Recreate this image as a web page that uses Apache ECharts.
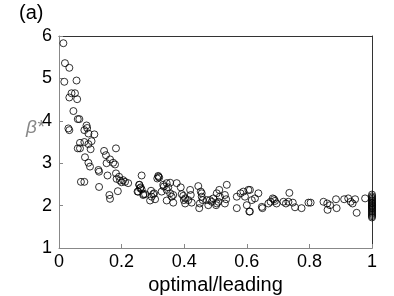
<!DOCTYPE html>
<html>
<head>
<meta charset="utf-8">
<script src="https://cdn.jsdelivr.net/npm/echarts@6/dist/echarts.min.js"></script>
<style>html,body{margin:0;padding:0;background:#fff}#c{width:394px;height:296px}</style>
</head>
<body>
<div id="c"></div>
<script>
const panelLabel = "(a)";
const xAxisName = "optimal/leading";
const yAxisName = "β*";
const xTicks = [0, 0.2, 0.4, 0.6, 0.8, 1];
const yTicks = [1, 2, 3, 4, 5, 6];

const ratioValues = [
0.014,0.019,0.033,0.017,0.056,0.040,0.051,0.033,0.058,0.046,0.060,0.065,0.030,0.033,0.088,0.090,0.081,0.094,0.113,
0.067,0.081,0.104,0.060,0.067,0.094,0.101,0.083,0.094,0.099,0.144,0.150,0.182,0.163,0.152,0.173,0.179,0.126,0.128,
0.155,0.182,0.184,0.192,0.195,0.200,0.205,0.211,0.221,0.264,0.070,0.081,0.128,0.188,0.161,0.163,
0.256,0.259,0.264,0.251,0.269,0.275,0.294,0.296,0.304,0.317,0.320,0.314,0.318,0.257,0.261,0.253,0.270,
0.301,0.291,0.307,0.328,0.333,0.344,0.355,0.335,0.349,0.344,0.355,0.360,0.365,0.344,0.365,0.376,0.389,
0.392,0.397,0.403,0.399,0.403,0.419,0.421,0.424,0.413,0.445,0.453,0.456,0.456,0.459,0.450,0.448,
0.472,0.482,0.488,0.493,0.477,0.504,0.512,0.514,0.509,0.504,0.502,0.530,0.534,0.530,0.536,
0.568,0.568,0.580,0.589,0.594,0.605,0.600,0.608,0.626,0.637,0.610,0.616,0.610,0.648,0.650,
0.669,0.676,0.683,0.687,0.690,0.695,0.717,0.725,0.733,0.736,0.747,0.754,0.775,0.797,0.804,
0.845,0.857,0.866,0.858,0.885,0.887,0.911,0.924,0.932,0.946,0.938,0.951,0.978,
1,1,1,1,1,1,1,1,1,1,1,1,1,1,1,1,1,1,1,1
];
const betaValues = [
5.83,5.36,5.25,4.92,4.95,4.65,4.65,4.55,4.51,4.23,4.04,4.04,3.82,3.78,3.89,3.83,3.78,3.70,3.68,
3.48,3.50,3.52,3.35,3.35,3.45,3.33,3.14,3.01,2.92,3.29,3.19,3.35,3.09,3.00,3.01,2.97,2.84,2.80,
2.71,2.76,2.63,2.68,2.59,2.55,2.60,2.56,2.53,2.71,2.56,2.56,2.44,2.34,2.25,2.16,
2.49,2.41,2.38,2.33,2.25,2.27,2.35,2.21,2.29,2.70,2.66,2.64,2.68,2.49,2.43,2.33,2.27,
2.27,2.12,2.15,2.33,2.49,2.53,2.54,2.45,2.43,2.37,2.29,2.21,2.25,2.12,2.07,2.53,2.43,
2.27,2.23,2.17,2.13,2.05,2.37,2.25,2.07,2.13,2.46,2.33,2.29,2.21,2.13,2.05,1.94,
2.13,2.13,2.09,2.17,2.01,2.29,2.37,2.21,2.09,2.05,2.01,2.25,2.15,2.05,2.49,
2.21,1.94,2.29,2.33,2.21,2.37,2.01,1.86,2.17,2.29,2.37,2.13,1.86,1.97,1.94,
2.05,2.09,2.17,2.15,2.11,2.05,2.09,2.05,2.09,2.30,2.07,1.96,1.94,2.07,2.07,
2.09,2.05,2.01,1.90,2.15,1.94,2.15,2.17,2.09,2.15,2.05,1.83,2.17,
2.26,2.22,2.19,2.16,2.13,2.10,2.07,2.05,2.02,2.00,1.98,1.95,1.93,1.90,1.87,1.84,1.81,1.78,1.75,1.72
];

const points = ratioValues.map((x, i) => [x, betaValues[i]]);
const FONT = '"Liberation Sans", Arial, sans-serif';

const chart = echarts.init(document.getElementById('c'), null, {renderer: 'canvas'});
chart.setOption({
  animation: false,
  backgroundColor: '#fff',
  grid: {left: 59, top: 36, right: 22, bottom: 48, containLabel: false, outerBoundsMode: 'none'},
  xAxis: [{
    type: 'value', min: xTicks[0], max: xTicks[xTicks.length-1], interval: 0.2,
    name: xAxisName, nameLocation: 'middle', nameGap: 21,
    nameTextStyle: {fontFamily: FONT, fontSize: 20, color: '#000'},
    axisLine: {show: true, lineStyle: {color: '#888', width: 1}},
    axisTick: {show: true, inside: true, length: 4, lineStyle: {color: '#888'}},
    axisLabel: {fontFamily: FONT, fontSize: 18, color: '#000', margin: 5},
    splitLine: {show: false}
  }, {
    type: 'value', position: 'top', min: 0, max: 1,
    axisLine: {show: true, onZero: false, lineStyle: {color: '#333', width: 1}},
    axisTick: {show: false}, axisLabel: {show: false}, splitLine: {show: false}
  }],
  yAxis: [{
    type: 'value', min: yTicks[0], max: yTicks[yTicks.length-1], interval: 1,
    axisLine: {show: true, lineStyle: {color: '#888', width: 1}},
    axisTick: {show: true, inside: true, length: 4, lineStyle: {color: '#888'}},
    axisLabel: {fontFamily: FONT, fontSize: 18, color: '#000', margin: 7},
    splitLine: {show: false}
  }, {
    type: 'value', position: 'right', min: 1, max: 6,
    axisLine: {show: true, onZero: false, lineStyle: {color: '#333', width: 1}},
    axisTick: {show: false}, axisLabel: {show: false}, splitLine: {show: false}
  }],
  graphic: [
    {type: 'text', left: 19, top: 3, style: {text: panelLabel, font: '20px ' + FONT, fill: '#000'}},
    {type: 'text', left: 26, top: 118, style: {text: yAxisName, font: 'italic 19px ' + FONT, fill: '#888'}}
  ],
  series: [{
    type: 'scatter',
    xAxisIndex: 0, yAxisIndex: 0,
    data: points,
    symbol: 'circle',
    symbolSize: 7,
    itemStyle: {color: 'rgba(0,0,0,0)', borderColor: '#000', borderWidth: 1},
    clip: false
  }]
});
</script>
</body>
</html>
